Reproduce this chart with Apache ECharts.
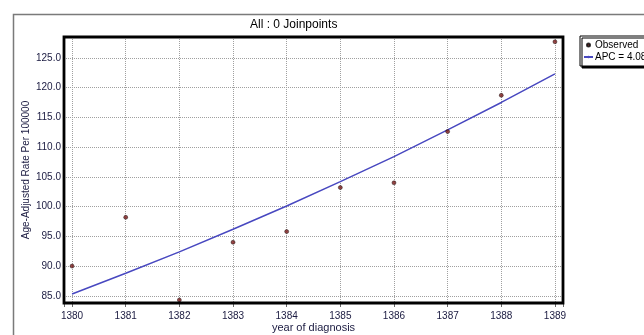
<!DOCTYPE html>
<html>
<head>
<meta charset="utf-8">
<script src="https://cdn.jsdelivr.net/npm/echarts@6/dist/echarts.min.js"></script>
<style>
  html, body { margin: 0; padding: 0; background: #fff; }
  #chart { width: 644px; height: 335px; }
</style>
</head>
<body>
<div id="chart"></div>
<script>
const years = [1380, 1381, 1382, 1383, 1384, 1385, 1386, 1387, 1388, 1389]
const observed = [90.0, 98.2, 84.3, 94.0, 95.8, 103.2, 104.0, 112.6, 118.7, 127.7]
const fitted = [85.3, 88.8, 92.4, 96.2, 100.1, 104.2, 108.4, 112.9, 117.5, 122.3]

const font = 'Liberation Sans, Arial, sans-serif'
const labelColor = '#1a1a40'

const chart = echarts.init(document.getElementById('chart'), null, { renderer: 'canvas' })

// integer tick check, the axis also carries its own min/max as boundary ticks
const onStep = (v, step) => Math.abs(v / step - Math.round(v / step)) < 1e-6

chart.setOption({
  animation: false,
  backgroundColor: '#fff',
  textStyle: { fontFamily: font },
  title: {
    text: 'All : 0 Joinpoints', left: 250, top: 19, padding: 0,
    textStyle: { fontSize: 12, fontWeight: 'normal', color: '#000', fontFamily: font }
  },
  graphic: [
    { type: 'rect', silent: true, z: 1, shape: { x: 13.5, y: 14.5, width: 700, height: 400 },
      style: { fill: 'none', stroke: '#7a7a7a', lineWidth: 1.5 } },
    { type: 'rect', silent: true, z: 50, shape: { x: 64, y: 37, width: 499, height: 266 },
      style: { fill: 'none', stroke: '#000', lineWidth: 2.8 } }
  ],
  legend: {
    orient: 'vertical', left: 580, top: 36, padding: [4, 40, 4, 3],
    itemGap: 2, itemWidth: 9, itemHeight: 3,
    backgroundColor: '#fff', borderColor: '#000', borderWidth: 1,
    shadowColor: '#000', shadowOffsetX: 2, shadowOffsetY: 2, shadowBlur: 0,
    textStyle: { fontSize: 10, color: '#000', fontFamily: font, padding: [0, 0, 0, -3] },
    data: ['Observed', 'APC = 4.08%']
  },
  grid: { left: 64, right: 81, top: 37, bottom: 32, show: false, outerBoundsMode: 'none', containLabel: false },
  xAxis: {
    type: 'value', min: 1379.85, max: 1389.15, minInterval: 1, maxInterval: 1, splitNumber: 9,
    name: 'year of diagnosis', nameLocation: 'middle', nameGap: 19, nameMoveOverlap: false,
    nameTextStyle: { fontSize: 11, color: labelColor, fontFamily: font },
    axisLine: { show: false },
    axisTick: { show: true, length: 4, interval: (i, v) => onStep(+v, 1), lineStyle: { color: '#666' } },
    axisLabel: { fontSize: 10, color: labelColor, margin: 8, fontFamily: font,
      formatter: v => onStep(v, 1) ? String(Math.round(v)) : '' },
    splitLine: { show: true, interval: (i, v) => onStep(+v, 1),
      lineStyle: { color: '#a0a0a0', type: 'dotted', width: 1 } }
  },
  yAxis: {
    type: 'value', min: 83.8, max: 128.5, minInterval: 5, maxInterval: 5, splitNumber: 9,
    name: 'Age-Adjusted Rate Per 100000', nameLocation: 'middle', nameGap: 33, nameMoveOverlap: false,
    nameTextStyle: { fontSize: 10, color: labelColor, fontFamily: font },
    axisLine: { show: false },
    axisTick: { show: false },
    axisLabel: { fontSize: 10, color: labelColor, margin: 3, fontFamily: font,
      formatter: v => onStep(v, 5) ? v.toFixed(1) : '' },
    splitLine: { show: true, lineStyle: { color: '#a0a0a0', type: 'dotted', width: 1 } }
  },
  series: [
    { name: 'Observed', type: 'scatter', symbol: 'circle', symbolSize: 4,
      itemStyle: { color: '#7a1818', borderColor: '#000', borderWidth: 0.5 },
      data: years.map((y, i) => [y, observed[i]]), z: 3 },
    { name: 'APC = 4.08%', type: 'line', symbol: 'none',
      lineStyle: { color: '#4848c0', width: 1.5 }, itemStyle: { color: '#4848c0' },
      data: years.map((y, i) => [y, fitted[i]]), z: 2 }
  ]
})
</script>
</body>
</html>
